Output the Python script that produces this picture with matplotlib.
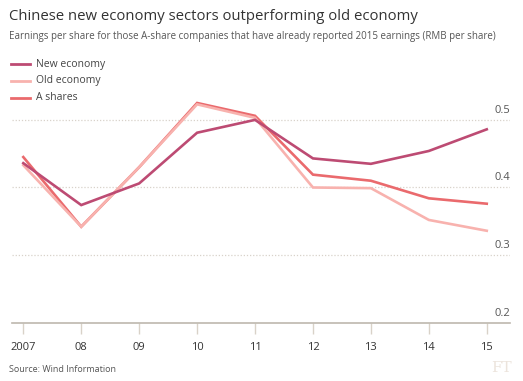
import matplotlib
matplotlib.use("Agg")
import matplotlib.pyplot as plt
import matplotlib.transforms as mtransforms

plt.rcParams['font.family'] = ['Open Sans', 'DejaVu Sans']

years = [2007, 2008, 2009, 2010, 2011, 2012, 2013, 2014, 2015]
year_labels = ["2007", "08", "09", "10", "11", "12", "13", "14", "15"]
new_economy = [0.436, 0.374, 0.406, 0.481, 0.500, 0.443, 0.435, 0.454, 0.486]
old_economy = [0.433, 0.342, 0.430, 0.523, 0.503, 0.400, 0.399, 0.352, 0.336]
a_shares = [0.445, 0.342, 0.430, 0.525, 0.506, 0.419, 0.410, 0.384, 0.376]
y_ticks = [0.2, 0.3, 0.4, 0.5]
y_tick_labels = ["0.2", "0.3", "0.4", "0.5"]

series = [
    ("New economy", new_economy, "#bd4b73"),
    ("Old economy", old_economy, "#f8b2ae"),
    ("A shares", a_shares, "#ea6a6d"),
]

fig = plt.figure(figsize=(5.23, 3.81), dpi=100)
fig.patch.set_facecolor("white")
ax = fig.add_axes([0.0224, 0.153, 0.975 - 0.0224, 0.7386 - 0.153])

for name, vals, col in series[::-1]:
    ax.plot(years, vals, color=col, lw=1.9, solid_joinstyle='miter', zorder=3)

ax.set_xlim(2006.8, 2015.4)
ax.set_ylim(0.2, 0.53)

for s in ["top", "right", "left"]:
    ax.spines[s].set_visible(False)
ax.spines["bottom"].set_color("#bdb7ae")
ax.spines["bottom"].set_linewidth(1.2)

for t in y_ticks[1:]:
    ax.axhline(t, color="#d8d2ca", lw=0.9, ls=(0, (1, 1.5)), zorder=1)

ax.set_yticks([])
trans = mtransforms.blended_transform_factory(ax.transAxes, ax.transData)
offset = mtransforms.ScaledTranslation(0, 4/100, fig.dpi_scale_trans)
for t, lab in zip(y_ticks, y_tick_labels):
    ax.text(1.0, t, lab, transform=trans + offset, ha="right", va="bottom",
            fontsize=8, color="#555555", zorder=4)

ax.set_xticks(years)
ax.set_xticklabels(year_labels, fontsize=8, color="#333333")
ax.tick_params(axis="x", direction="out", length=8, width=1, color="#d9d2c8", pad=6)

# legend
leg_y = [64, 81, 98]
for (name, vals, col), yy in zip(series, leg_y):
    fy = 1 - yy / 381
    fig.add_artist(plt.Line2D([11/523, 30/523], [fy, fy], color=col, lw=2.0))
    fig.text(36/523, fy, name, fontsize=7.5, color="#444444", va="center", ha="left")

fig.text(9/523, 1 - 16/381, "Chinese new economy sectors outperforming old economy",
         fontsize=10.75, color="#333333", va="center", ha="left")
fig.text(9/523, 1 - 36/381,
         "Earnings per share for those A-share companies that have already reported 2015 earnings (RMB per share)",
         fontsize=7.05, color="#555555", va="center", ha="left")
fig.text(9/523, 1 - 369/381, "Source: Wind Information", fontsize=6.5, color="#555555",
         va="center", ha="left")
fig.text(512/523, 1 - 368/381, "FT", fontsize=11, color="#ece4dc", family="DejaVu Serif",
         va="center", ha="right")

fig.savefig("out.png", dpi=100, facecolor="white")
